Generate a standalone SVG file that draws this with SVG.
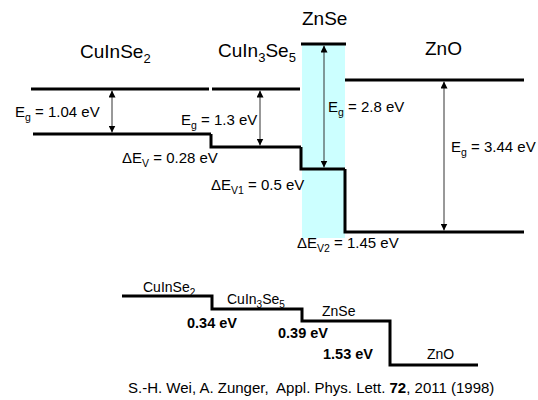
<svg xmlns="http://www.w3.org/2000/svg" width="538" height="400" viewBox="0 0 538 400">
<defs>
<style>
text{font-family:"Liberation Sans",Arial,sans-serif;fill:#000}
.t{font-size:19px}
.l{font-size:15px}
.s{font-size:14px}
.b{font-size:14.5px;font-weight:bold}
.c{font-size:15px}
.band{stroke:#000;stroke-width:3;fill:none}
.arr{stroke:#333;stroke-width:1;fill:none;marker-start:url(#ah);marker-end:url(#ah)}
</style>
<marker id="ah" viewBox="0 0 10 10" refX="10" refY="5" markerWidth="7" markerHeight="7" orient="auto-start-reverse" markerUnits="userSpaceOnUse">
<path d="M0,0 L10,5 L0,10 z" fill="#000"/>
</marker>
</defs>
<rect width="538" height="400" fill="#fff"/>

<g id="znse-region">
<rect x="302" y="44" width="43" height="194" fill="#ccffff"/>
</g>

<g id="cuinse2">
<text class="t" x="80" y="58">CuInSe<tspan dy="5" font-size="13">2</tspan></text>
<path class="band" d="M31,89 H209"/>
<path class="band" d="M33,134 H211"/>
<text class="l" x="15" y="117">E<tspan dy="4" font-size="10.5">g</tspan><tspan dy="-4"> = 1.04 eV</tspan></text>
</g>

<g id="cuin3se5">
<text class="t" x="218" y="57">CuIn<tspan dy="5" font-size="13">3</tspan><tspan dy="-5">Se</tspan><tspan dy="5" font-size="13">5</tspan></text>
<path class="band" d="M212,89 H300"/>
<path class="band" d="M211,134 V147 H301"/>
<text class="l" x="181" y="125">E<tspan dy="4" font-size="10.5">g</tspan><tspan dy="-4"> = 1.3 eV</tspan></text>
<text class="l" x="122" y="163">ΔE<tspan dy="4" font-size="10.5">V</tspan><tspan dy="-4"> = 0.28 eV</tspan></text>
</g>

<g id="znse">
<text class="t" x="302" y="25">ZnSe</text>
<path class="band" d="M301,44 H346"/>
<path class="band" d="M301,147 V169 H345"/>
<text class="l" x="328" y="112">E<tspan dy="4" font-size="10.5">g</tspan><tspan dy="-4"> = 2.8 eV</tspan></text>
<text class="l" x="211" y="190">ΔE<tspan dy="4" font-size="10.5">V1</tspan><tspan dy="-4"> = 0.5 eV</tspan></text>
</g>

<g id="zno">
<text class="t" x="425" y="55">ZnO</text>
<path class="band" d="M345,80 H524"/>
<path class="band" d="M345,169 V232 H524"/>
<text class="l" x="451" y="152">E<tspan dy="4" font-size="10.5">g</tspan><tspan dy="-4"> = 3.44 eV</tspan></text>
<text class="l" x="297" y="248">ΔE<tspan dy="4" font-size="10.5">V2</tspan><tspan dy="-4"> = 1.45 eV</tspan></text>
</g>

<g id="connectors">
<line class="arr" x1="112" y1="132.5" x2="112" y2="90.5"/>
<line class="arr" x1="260" y1="145.5" x2="260" y2="90.5"/>
<line class="arr" x1="324" y1="167.5" x2="324" y2="45.5"/>
<line class="arr" x1="444" y1="230.5" x2="444" y2="81.5"/>
</g>

<g id="offsets">
<path class="band" stroke-width="2.5" d="M122,296 H212 V309 H302 V321 H390 V365 H478"/>
<text class="s" x="143" y="292">CuInSe<tspan dy="4" font-size="10">2</tspan></text>
<text class="s" x="227" y="304">CuIn<tspan dy="4" font-size="10">3</tspan><tspan dy="-4">Se</tspan><tspan dy="4" font-size="10">5</tspan></text>
<text class="s" x="322" y="316">ZnSe</text>
<text class="s" x="427" y="359">ZnO</text>
<text class="b" x="187" y="328">0.34 eV</text>
<text class="b" x="278" y="338">0.39 eV</text>
<text class="b" x="323" y="359">1.53 eV</text>
</g>

<text class="c" x="128" y="393">S.-H. Wei, A. Zunger,&#160; Appl. Phys. Lett. <tspan font-weight="bold">72</tspan>, 2011 (1998)</text>
</svg>
